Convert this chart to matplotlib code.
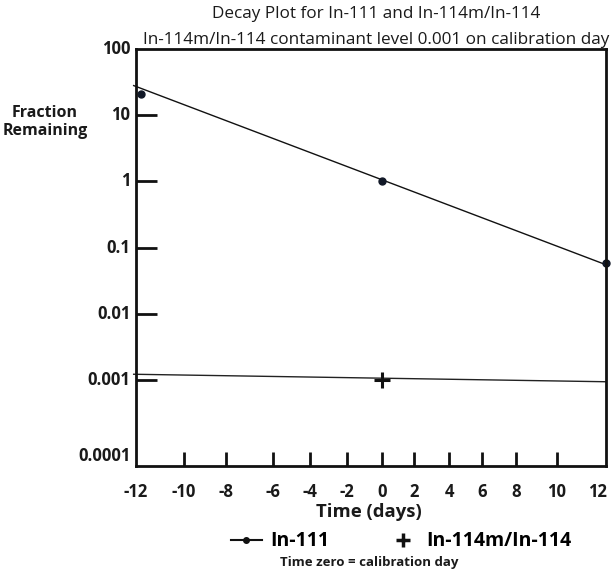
import numpy as np
import matplotlib
matplotlib.use('Agg')
import matplotlib.pyplot as plt
from matplotlib.lines import Line2D

plt.rcParams['font.family'] = ['Open Sans', 'DejaVu Sans']

# In-111 fitted line and measured points
in111_line_x = [-12.1, 12.4]
in111_line_y = [28.0, 0.055]
in111_pts_x = [-11.8, 0, 12.4]
in111_pts_y = [21.0, 1.0, 0.058]

# In-114m/In-114 line and calibration-day point
in114_line_x = [-12.1, 12.4]
in114_line_y = [0.00122, 0.00094]
in114_pts_x = [0]
in114_pts_y = [0.001]

x_ticks = [-10, -8, -6, -4, -2, 0, 2, 4, 6, 8, 10]
x_labels = [-12, -10, -8, -6, -4, -2, 0, 2, 4, 6, 8, 10, 12]
y_ticks = [10, 1, 0.1, 0.01, 0.001]
y_labels = ['100', '10', '1', '0.1', '0.01', '0.001', '0.0001']
y_label_vals = [100, 10, 1, 0.1, 0.01, 0.001, 0.0001]

# the original day axis is hand-spaced: breakpoints (days -> relative position)
scale_days = [-13, -12, -10, -8, -6, -4, -2, 0, 2, 4, 6, 8, 10, 12, 13]
scale_pos = [113, 136, 184, 226, 273, 310, 347, 382, 414, 449, 482, 516, 556, 597, 618]


def fwd(x):
    return np.interp(x, scale_days, scale_pos)


def inv(p):
    return np.interp(p, scale_pos, scale_days)


fig = plt.figure(figsize=(6.15, 5.73), dpi=100)
ax = fig.add_axes([0.2211, 0.1867, 0.7643, 0.7278])
ax.set_xscale('function', functions=(fwd, inv))

ax.plot(in111_line_x, in111_line_y, color='#111111', lw=1.0, clip_on=False)
ax.plot(in111_pts_x, in111_pts_y, 'o', color='#111827', ms=5, clip_on=False)
ax.plot(in114_line_x, in114_line_y, color='#222222', lw=1.0, clip_on=False)
ax.plot(in114_pts_x, in114_pts_y, '+', color='#111111', ms=12, mew=2.2)

ax.set_yscale('log')
ax.set_xlim(-12, 12.4)
ax.set_ylim(10 ** -4.3, 100)

ax.set_yticks(y_ticks)
ax.set_yticklabels([])
ax.yaxis.set_minor_locator(plt.NullLocator())
ax.tick_params(axis='y', direction='in', length=15, width=2, color='#111111', left=True)
for v, s in zip(y_label_vals, y_labels):
    yy = v if v > 0.0001 else 10 ** -4.15
    ax.text(-0.012, yy, s, transform=ax.get_yaxis_transform(), ha='right', va='center',
            fontsize=12, fontweight='bold', color='#1a1a1a')

ax.set_xticks(x_ticks)
ax.set_xticklabels([])
ax.xaxis.set_minor_locator(plt.NullLocator())
ax.tick_params(axis='x', direction='in', length=10, width=2, color='#111111')
for v in x_labels:
    ax.text(v, -0.04, str(v), transform=ax.get_xaxis_transform(), ha='center', va='top',
            fontsize=12, fontweight='bold', color='#1a1a1a')

for sp in ax.spines.values():
    sp.set_linewidth(2)
    sp.set_color('#111111')

fig.text(0.611, 0.975, 'Decay Plot for In-111 and In-114m/In-114', ha='center', va='center',
         fontsize=12.3, color='#1a1a1a')
fig.text(0.611, 0.931, 'In-114m/In-114 contaminant level 0.001 on calibration day', ha='center',
         va='center', fontsize=12.3, color='#1a1a1a')
fig.text(0.073, 0.787, 'Fraction\nRemaining', ha='center', va='center', fontsize=11.5,
         fontweight='bold', color='#1a1a1a', linespacing=1.15)
fig.text(0.600, 0.106, 'Time (days)', ha='center', va='center', fontsize=13.3,
         fontweight='bold', color='#1a1a1a')
fig.text(0.600, 0.018, 'Time zero = calibration day', ha='center', va='center', fontsize=9.5,
         fontweight='bold', color='#1a1a1a')

handles = [Line2D([], [], color='#111111', lw=1.5, marker='o', ms=4),
           Line2D([], [], color='#111111', lw=0, marker='+', ms=10, mew=2.5)]
fig.legend(handles, ['In-111', 'In-114m/In-114'], loc='center', ncol=2, frameon=False,
           bbox_to_anchor=(0.652, 0.055), handlelength=1.6, handletextpad=0.4,
           columnspacing=3.0, prop={'weight': 'bold', 'size': 14})

fig.savefig('out.png', dpi=100)
